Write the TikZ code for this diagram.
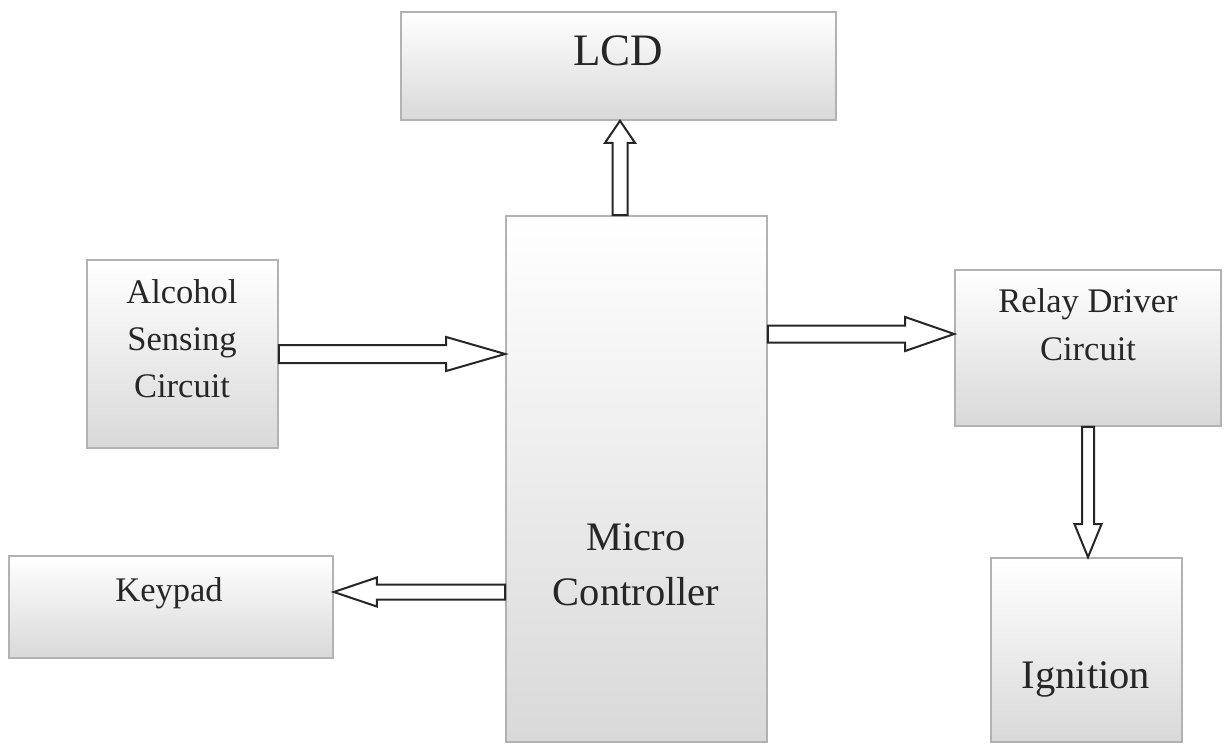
\documentclass[tikz,border=0pt]{standalone}
\usepackage{fontspec}
\setmainfont{Liberation Serif}
\usetikzlibrary{calc}

% Hollow block arrow from #1 to the tip #2:
% #3 half shaft width, #4 half head width, #5 head length
\newcommand{\blockarrow}[5]{%
  \path ($(#2)!#5!(#1)$) coordinate (ahbase);
  \draw[hollowarrow]
    ($(#1)!#3!90:(#2)$) -- ($(ahbase)!#3!90:(#2)$) -- ($(ahbase)!#4!90:(#2)$)
    -- (#2)
    -- ($(ahbase)!#4!-90:(#2)$) -- ($(ahbase)!#3!-90:(#2)$) -- ($(#1)!#3!-90:(#2)$)
    -- cycle;}

\tikzset{
  blockbox/.style={rectangle, draw=gray!60, line width=1.6pt, inner sep=0pt,
    top color=white, middle color=gray!6, bottom color=gray!30},
  hollowarrow/.style={draw=black!85, fill=white, line width=2pt, line join=miter},
  lbl/.style={text=black!85, inner sep=0pt, align=center, anchor=base},
  bigtxt/.style={font=\fontsize{45}{54}\selectfont},
  midtxt/.style={font=\fontsize{40.5}{55}\selectfont},
  smalltxt/.style={font=\fontsize{34.5}{47}\selectfont},
}

\begin{document}
\begin{tikzpicture}[x=1pt, y=-1pt]
  \useasboundingbox (0,0) rectangle (1228,744);

  % blocks
  \node[blockbox, minimum width=435pt, minimum height=108pt] (lcd) at (618.5,66) {};
  \node[blockbox, minimum width=261pt, minimum height=526pt] (mc)  at (636.5,479) {};
  \node[blockbox, minimum width=191pt, minimum height=188pt] (alc) at (182.5,354) {};
  \node[blockbox, minimum width=266pt, minimum height=156pt] (rel) at (1088,348) {};
  \node[blockbox, minimum width=324pt, minimum height=102pt] (key) at (171,607) {};
  \node[blockbox, minimum width=191pt, minimum height=184pt] (ign) at (1086.5,650) {};

  % labels (base = baseline of the last line)
  \node[lbl, bigtxt] (lcdtxt) at (618,65) {LCD};
  \node[lbl, midtxt] (mctxt) at (636,605) {Micro\\Controller};
  \node[lbl, smalltxt] (alctxt) at (182,397) {Alcohol\\Sensing\\Circuit};
  \node[lbl, smalltxt, font=\fontsize{34.5}{48}\selectfont] (reltxt) at (1088,360) {Relay Driver\\Circuit};
  \node[lbl, smalltxt] (keytxt) at (169,601) {Keypad};
  \node[lbl, midtxt] (igntxt) at (1086,688) {Ignition};

  % arrow anchor points
  \coordinate (lcdin) at ($(lcd.south)+(1.5,0)$);
  \coordinate (relin) at ($(rel.west)+(0,-14)$);
  \coordinate (keyin) at ($(key.east)+(0,-15)$);

  % connectors
  \blockarrow{lcdin |- mc.north}{lcdin}{7.5pt}{15pt}{22pt}
  \blockarrow{alc.east}{alc.east -| mc.west}{9pt}{17pt}{59pt}
  \blockarrow{relin -| mc.east}{relin}{8.5pt}{17pt}{49pt}
  \blockarrow{keyin -| mc.west}{keyin}{7.5pt}{14.5pt}{43pt}
  \blockarrow{rel.south}{rel.south |- ign.north}{6pt}{13.5pt}{33pt}
\end{tikzpicture}
\end{document}
